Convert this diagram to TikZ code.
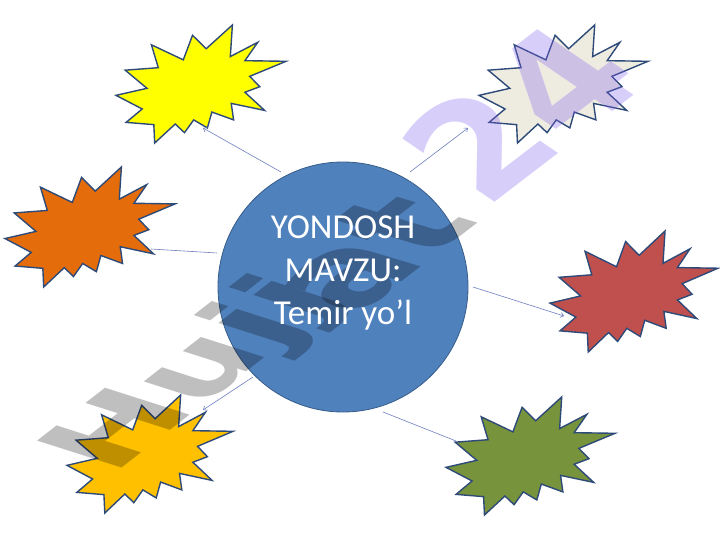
\documentclass[tikz,border=0pt]{standalone}
\usepackage{fontspec}
\setmainfont{Carlito}
\newfontfamily\wmfont{DejaVu Sans}
\usetikzlibrary{arrows.meta}
\definecolor{hubfill}{HTML}{4F81BD}
\definecolor{hubline}{HTML}{385D8A}
\definecolor{starline}{HTML}{2E4A78}
\definecolor{conncol}{HTML}{7080C0}
\definecolor{cyellow}{HTML}{FFFF00}
\definecolor{cbeige}{HTML}{EEECE1}
\definecolor{corange}{HTML}{E46C0A}
\definecolor{cred}{HTML}{C0504D}
\definecolor{cgold}{HTML}{FFC000}
\definecolor{cgreen}{HTML}{77933C}
\definecolor{wmpurple}{HTML}{8060F0}
\tikzset{
  starstyle/.style={draw=starline, line width=1.4pt, line join=miter},
  hub/.style={circle, minimum size=250pt, inner sep=0pt, fill=hubfill, draw=hubline, line width=0.8pt},
  conn/.style={draw=conncol, line width=0.6pt},
  arr/.style={-{Straight Barb[length=3pt,width=5pt]}},
  wm/.style={inner sep=0pt, anchor=base west, font=\wmfont\bfseries\fontsize{100}{100}\selectfont},
  wmgrey/.style={wm, text=black, text opacity=0.25},
  wmlav/.style={wm, text=wmpurple, text opacity=0.3},
  hubtext/.style={text=white, align=center, font=\fontsize{35}{43}\selectfont}
}
\newcommand{\Explosion}[5]{%
  \begin{scope}[shift={(#1,#2)}, xscale=#3/216, yscale=#4/216]
    \draw[starstyle, fill=#5] (114.62,43.42) -- (147.90,0) -- (145.25,57.77) -- (180.07,31.72)
      -- (163.80,65.32) -- (216,66.45) -- (169.85,94.02) -- (182.70,112.90) -- (163.80,123.10)
      -- (188.77,156.32) -- (146.40,143.50) -- (149.42,173.70) -- (121.80,159.35) -- (116.12,188.42)
      -- (98.72,173.70) -- (87.00,197.12) -- (75.27,181.25) -- (49.17,216) -- (48.05,182.40)
      -- (12.85,178.25) -- (33.30,153.70) -- (0,128.77) -- (39.35,115.92) -- (11.72,82.70)
      -- (53.72,78.17) -- (45.02,36.25) -- (85.50,63.82) -- (97.22,18.87) -- cycle;
  \end{scope}}
\begin{document}
\begin{tikzpicture}[x=1pt, y=-1pt]
  \fill[white] (0,0) rectangle (720,540);
  \path[use as bounding box] (0,0) rectangle (720,540);

  % explosion shapes
  \Explosion{116}{25}{170}{118}{cyellow}
  \Explosion{479}{25}{169}{118}{cbeige}
  \Explosion{5}{167}{170}{120}{corange}
  \Explosion{550}{231}{168}{121}{cred}
  \Explosion{67}{395}{166}{118}{cgold}
  \Explosion{446}{397}{169}{118}{cgreen}

  % central circle
  \node[hub] (hub) at (343,287) {};

  % connector ends
  \coordinate (s1) at (281,172); \coordinate (e1) at (203,128);
  \coordinate (s2) at (410,172); \coordinate (e2) at (468,128);
  \coordinate (s3) at (217,253); \coordinate (e3) at (151,249);
  \coordinate (s4) at (473,287); \coordinate (e4) at (564,316);
  \coordinate (s5) at (253,377); \coordinate (e5) at (203,410);
  \coordinate (s6) at (383,412); \coordinate (e6) at (456,441);

  \draw[conn, arr] (s1) -- (e1);
  \draw[conn, arr] (s2) -- (e2);
  \draw[conn] (s3) -- (e3);
  \draw[conn, arr] (s4) -- (e4);
  \draw[conn, arr] (s5) -- (e5);
  \draw[conn] (s6) -- (e6);

  % watermark (perspective approximated piecewise)
  \begin{scope}[shift={(112,476)}]
    \node[wmgrey, cm={1.04,0.81,-1.16,0.37,(0,0)}] (wmA) at (0,0) {Hujj};
  \end{scope}
  \begin{scope}[shift={(355,318)}]
    \node[wmgrey, cm={1.1,0.85,-1.5,0.45,(0,0)}] (wmB) at (0,0) {at};
  \end{scope}
  \begin{scope}[shift={(485,210)}]
    \node[wmlav, cm={1.2,0.92,-1.32,0.9,(0,0)}] (wmC) at (0,0) {24};
  \end{scope}

  % label
  \node[hubtext] (label) at (343,273) {YONDOSH\\MAVZU:\\Temir yo’l};
\end{tikzpicture}
\end{document}
